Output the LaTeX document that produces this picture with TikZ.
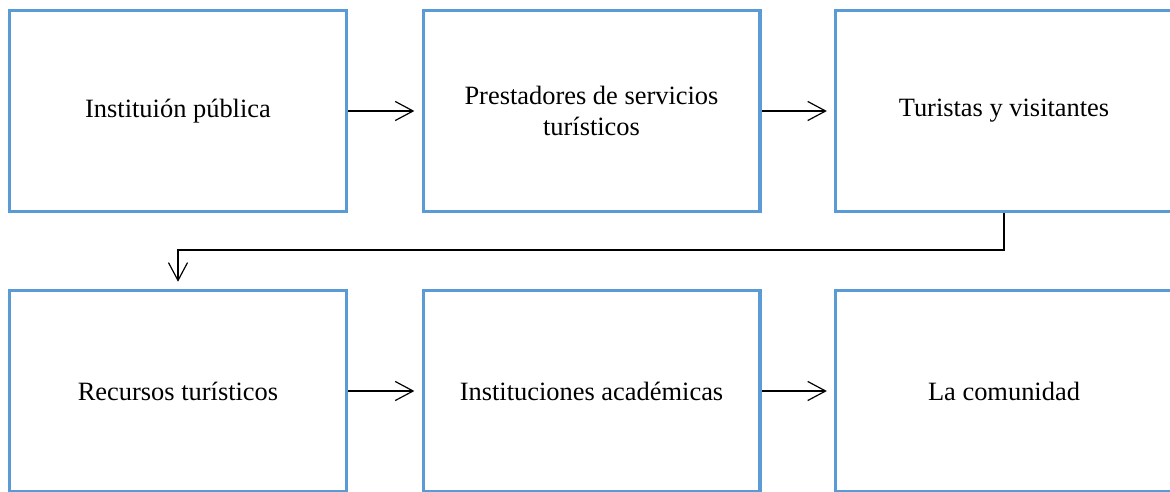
\documentclass[tikz,border=0pt]{standalone}
\usepackage{fontspec}
\setmainfont{Liberation Serif}
\usetikzlibrary{arrows.meta}
\pgfdeclarelayer{edgelayer}
\pgfdeclarelayer{nodelayer}
\pgfsetlayers{edgelayer,nodelayer,main}
\definecolor{boxblue}{RGB}{91,155,213}
\tikzset{font=\fontsize{11.1}{12.8}\selectfont}
\tikzstyle{none}=[inner sep=0pt]
\tikzstyle{box}=[draw=boxblue,line width=1.3pt,fill=white,minimum width=141.5pt,minimum height=84.5pt,align=center,inner sep=2pt]
\tikzstyle{link}=[line width=0.5pt,-{Straight Barb[length=7.5pt,width=8pt]},shorten >=3pt]

\begin{document}
\begin{tikzpicture}[x=0.42pt,y=-0.42pt]
	\clip (0,0) rectangle (1170,491);
	\useasboundingbox (0,0) rectangle (1170,491);
	\begin{pgfonlayer}{nodelayer}
		\node [style=box] (0) at (178, 111) {Instituión pública};
		\node [style=box] (1) at (591.5, 111) {Prestadores de servicios\\turísticos};
		\node [style=box] (2) at (1004, 111) {Turistas y visitantes};
		\node [style=box] (3) at (178, 391) {Recursos turísticos};
		\node [style=box] (4) at (591.5, 391) {Instituciones académicas};
		\node [style=box] (5) at (1004, 391) {La comunidad};
		\coordinate (6) at (1004, 250);
	\end{pgfonlayer}
	\begin{pgfonlayer}{edgelayer}
		\draw[style=link] (0) to (1);
		\draw[style=link] (1) to (2);
		\draw[style=link] (2.south) -- (6) -| (3.north);
		\draw[style=link] (3) to (4);
		\draw[style=link] (4) to (5);
	\end{pgfonlayer}
\end{tikzpicture}
\end{document}
